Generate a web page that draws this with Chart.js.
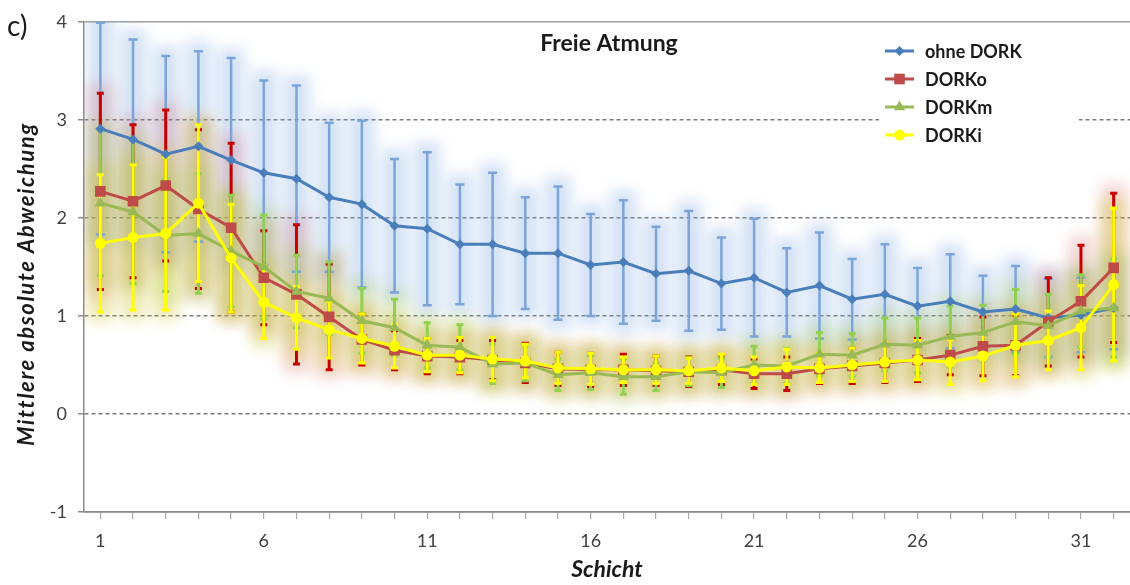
<!DOCTYPE html>
<html>
<head>
<meta charset="utf-8">
<script src="https://cdn.jsdelivr.net/npm/chart.js@4.4.1/dist/chart.umd.min.js"></script>
<style>
  html, body { margin: 0; padding: 0; background: #fff; overflow: hidden; }
  canvas { display: block; }
</style>
</head>
<body>
<canvas id="myChart" width="1130" height="585"></canvas>
<script>
// Schichten 1..32
const schichten = ['1', '2', '3', '4', '5', '6', '7', '8', '9', '10', '11', '12', '13', '14', '15', '16',
                   '17', '18', '19', '20', '21', '22', '23', '24', '25', '26', '27', '28', '29', '30', '31', '32'];

// Mittelwerte und Streuung (+/-) je Reihe
const ohneDork   = [2.91, 2.80, 2.65, 2.73, 2.59, 2.46, 2.40, 2.21, 2.14, 1.92, 1.89, 1.73, 1.73, 1.64, 1.64, 1.52,
                    1.55, 1.43, 1.46, 1.33, 1.39, 1.24, 1.31, 1.17, 1.22, 1.10, 1.15, 1.04, 1.07, 0.98, 1.01, 1.08];
const ohneDorkSd = [1.08, 1.02, 1.00, 0.97, 1.04, 0.94, 0.95, 0.76, 0.85, 0.68, 0.78, 0.61, 0.73, 0.57, 0.68, 0.52,
                    0.63, 0.48, 0.61, 0.47, 0.60, 0.45, 0.54, 0.41, 0.51, 0.39, 0.48, 0.37, 0.44, 0.40, 0.38, 0.42];

const dorkO   = [2.27, 2.17, 2.33, 2.09, 1.90, 1.39, 1.22, 0.99, 0.76, 0.65, 0.59, 0.58, 0.55, 0.52, 0.46, 0.45,
                 0.45, 0.44, 0.43, 0.45, 0.41, 0.41, 0.46, 0.49, 0.52, 0.55, 0.60, 0.69, 0.70, 0.94, 1.15, 1.49];
const dorkOSd = [1.00, 0.78, 0.77, 0.81, 0.86, 0.48, 0.71, 0.54, 0.26, 0.20, 0.18, 0.17, 0.20, 0.20, 0.17, 0.17,
                 0.16, 0.15, 0.15, 0.15, 0.15, 0.17, 0.15, 0.18, 0.20, 0.22, 0.20, 0.30, 0.31, 0.45, 0.57, 0.76];

const dorkM   = [2.15, 2.06, 1.82, 1.84, 1.66, 1.50, 1.25, 1.18, 0.95, 0.88, 0.70, 0.68, 0.51, 0.52, 0.40, 0.42,
                 0.38, 0.38, 0.43, 0.42, 0.50, 0.49, 0.61, 0.60, 0.71, 0.70, 0.79, 0.83, 0.94, 0.90, 1.05, 1.08];
const dorkMSd = [0.74, 0.73, 0.57, 0.61, 0.57, 0.53, 0.37, 0.37, 0.33, 0.29, 0.23, 0.23, 0.20, 0.18, 0.16, 0.17,
                 0.18, 0.14, 0.14, 0.15, 0.19, 0.18, 0.22, 0.22, 0.27, 0.28, 0.31, 0.28, 0.33, 0.32, 0.37, 0.50];

const dorkI   = [1.74, 1.80, 1.84, 2.15, 1.59, 1.14, 0.98, 0.86, 0.77, 0.69, 0.60, 0.60, 0.56, 0.54, 0.47, 0.46,
                 0.45, 0.45, 0.44, 0.47, 0.44, 0.48, 0.47, 0.50, 0.53, 0.55, 0.53, 0.59, 0.70, 0.75, 0.88, 1.32];
const dorkISd = [0.70, 0.74, 0.78, 0.80, 0.55, 0.37, 0.32, 0.29, 0.25, 0.22, 0.17, 0.18, 0.22, 0.17, 0.16, 0.16,
                 0.13, 0.14, 0.13, 0.14, 0.14, 0.18, 0.15, 0.17, 0.20, 0.20, 0.23, 0.25, 0.32, 0.30, 0.43, 0.78];

const yTicks = [-1, 0, 1, 2, 3, 4];

Chart.defaults.font.family = 'Lato, "Open Sans", sans-serif';

// weiche Schatten + Fehlerbalken hinter den Linien
const errorBars = {
  id: 'errorBars',
  beforeDatasetsDraw(chart) {
    const { ctx, chartArea: a, scales: { y } } = chart;
    ctx.save();
    ctx.beginPath();
    ctx.rect(a.left, a.top, a.right - a.left, a.bottom - a.top);
    ctx.clip();

    chart.data.datasets.forEach((ds, di) => {
      const meta = chart.getDatasetMeta(di);
      ctx.filter = 'blur(7px)';
      ctx.fillStyle = ds.haloColor;
      meta.data.forEach((pt, i) => {
        const top = y.getPixelForValue(ds.data[i] + ds.spread[i]);
        const bot = y.getPixelForValue(ds.data[i] - ds.spread[i]);
        ctx.fillRect(pt.x - 13, top - 10, 26, bot - top + 20);
      });
    });
    ctx.filter = 'none';

    chart.data.datasets.forEach((ds, di) => {
      const meta = chart.getDatasetMeta(di);
      ctx.strokeStyle = ds.barColor;
      ctx.lineWidth = ds.barWidth;
      meta.data.forEach((pt, i) => {
        const top = y.getPixelForValue(ds.data[i] + ds.spread[i]);
        const bot = y.getPixelForValue(ds.data[i] - ds.spread[i]);
        ctx.beginPath();
        ctx.moveTo(pt.x, top);
        ctx.lineTo(pt.x, bot);
        ctx.moveTo(pt.x - ds.capHalf, top);
        ctx.lineTo(pt.x + ds.capHalf, top);
        ctx.moveTo(pt.x - ds.capHalf, bot);
        ctx.lineTo(pt.x + ds.capHalf, bot);
        ctx.stroke();
      });
    });
    ctx.restore();
  }
};

function drawMarker(ctx, style, x, y, r, color) {
  ctx.fillStyle = color;
  ctx.beginPath();
  if (style === 'rectRot') {
    ctx.moveTo(x, y - r); ctx.lineTo(x + r, y); ctx.lineTo(x, y + r); ctx.lineTo(x - r, y);
  } else if (style === 'rect') {
    const s = r * Math.SQRT1_2;
    ctx.rect(x - s, y - s, 2 * s, 2 * s);
  } else if (style === 'triangle') {
    ctx.moveTo(x, y - r);
    ctx.lineTo(x + r * 0.866, y + r * 0.5);
    ctx.lineTo(x - r * 0.866, y + r * 0.5);
  } else {
    ctx.arc(x, y, r, 0, Math.PI * 2);
  }
  ctx.closePath();
  ctx.fill();
}

// Titel, "c)", y-Achsentitel und Legende
const beschriftung = {
  id: 'beschriftung',
  afterDraw(chart) {
    const { ctx } = chart;
    ctx.save();
    ctx.fillStyle = '#1a1a1a';
    ctx.font = '28px Lato';
    ctx.textBaseline = 'alphabetic';
    ctx.fillText('c)', 7, 36);

    ctx.font = 'bold 23px Lato';
    ctx.textAlign = 'center';
    ctx.fillText('Freie Atmung', 609, 51);

    // y-Achsentitel, etwas unterhalb der Mitte wie im Original-Layout
    ctx.save();
    ctx.translate(34, 284);
    ctx.rotate(-Math.PI / 2);
    ctx.font = 'italic bold 22px Lato';
    ctx.letterSpacing = '1.6px';
    ctx.fillText('Mittlere absolute Abweichung', 0, 0);
    ctx.restore();

    ctx.fillStyle = '#ffffff';
    ctx.fillRect(879, 32, 200, 116);

    ctx.textAlign = 'left';
    ctx.textBaseline = 'middle';
    ctx.font = 'bold 18px Lato';
    chart.data.datasets.forEach((ds, i) => {
      const ly = 51 + i * 28;
      ctx.strokeStyle = ds.borderColor;
      ctx.lineWidth = 3;
      ctx.beginPath();
      ctx.moveTo(885, ly);
      ctx.lineTo(914, ly);
      ctx.stroke();
      drawMarker(ctx, ds.pointStyle, 899.5, ly, ds.pointRadius, ds.borderColor);
      ctx.fillStyle = '#1a1a1a';
      ctx.fillText(ds.label, 925, ly + 1);
    });
    ctx.restore();
  }
};

const ctx = document.getElementById('myChart').getContext('2d');

const myChart = new Chart(ctx, {
  type: 'line',
  data: {
    labels: schichten,
    datasets: [
      {
        label: 'ohne DORK',
        data: ohneDork, spread: ohneDorkSd,
        borderColor: 'rgb(74, 126, 187)', backgroundColor: 'rgb(74, 126, 187)',
        barColor: 'rgb(122, 164, 218)', haloColor: 'rgba(130, 170, 225, 0.34)', barWidth: 2.5, capHalf: 4.5,
        pointStyle: 'rectRot', pointRadius: 5, order: 3
      },
      {
        label: 'DORKo',
        data: dorkO, spread: dorkOSd,
        borderColor: 'rgb(190, 75, 72)', backgroundColor: 'rgb(190, 75, 72)',
        barColor: 'rgb(200, 0, 0)', haloColor: 'rgba(215, 90, 90, 0.24)', barWidth: 3, capHalf: 3.5,
        pointStyle: 'rect', pointRadius: 7.5, order: 2
      },
      {
        label: 'DORKm',
        data: dorkM, spread: dorkMSd,
        borderColor: 'rgb(152, 185, 84)', backgroundColor: 'rgb(152, 185, 84)',
        barColor: 'rgb(146, 208, 80)', haloColor: 'rgba(160, 200, 70, 0.28)', barWidth: 3, capHalf: 3.5,
        pointStyle: 'triangle', pointRadius: 6.5, order: 1
      },
      {
        label: 'DORKi',
        data: dorkI, spread: dorkISd,
        borderColor: 'rgb(255, 255, 0)', backgroundColor: 'rgb(255, 255, 0)',
        barColor: 'rgb(255, 255, 0)', haloColor: 'rgba(205, 195, 40, 0.34)', barWidth: 3, capHalf: 3.5,
        pointStyle: 'circle', pointRadius: 5.5, order: 0
      }
    ]
  },
  options: {
    responsive: false,
    animation: false,
    layout: { autoPadding: false, padding: { top: 19, left: 0, right: 0, bottom: 0 } },
    elements: {
      line: { borderWidth: 3, tension: 0 },
      point: { borderWidth: 0, hoverRadius: 6 }
    },
    plugins: {
      legend: { display: false },
      tooltip: { enabled: false }
    },
    scales: {
      x: {
        offset: true,
        ticks: {
          autoSkip: false, maxRotation: 0, padding: 11, color: '#404040', font: { size: 18 },
          callback: (v, i) => (i % 5 === 0 ? schichten[i] : '')
        },
        grid: { drawOnChartArea: false, drawTicks: true, tickLength: 7, color: '#a6a6a6', lineWidth: 1.2 },
        border: { color: '#8c8c8c', width: 1.5 },
        title: {
          display: true, text: 'Schicht', color: '#1a1a1a',
          font: { size: 23, style: 'italic', weight: 'bold' }, padding: { top: 0, bottom: 2 }
        },
        afterFit: s => { s.height = 73; s.paddingLeft = 0; s.paddingRight = 0; }
      },
      y: {
        min: yTicks[0], max: yTicks[yTicks.length - 1],
        afterBuildTicks: s => { s.ticks = yTicks.map(v => ({ value: v })); },
        ticks: { padding: 11, color: '#404040', font: { size: 18 } },
        grid: {
          color: c => (c.tick && c.tick.value === 4 ? '#a0a0a0' : '#7a7a7a'),
          lineWidth: 1.5, tickLength: 6, tickColor: '#8c8c8c'
        },
        border: {
          color: '#8c8c8c', width: 1.5,
          dash: c => (c.tick && (c.tick.value === 4 || c.tick.value === -1) ? [] : [4, 3])
        },
        afterFit: s => { s.width = 84; }
      }
    }
  },
  plugins: [errorBars, beschriftung]
});
</script>
</body>
</html>
